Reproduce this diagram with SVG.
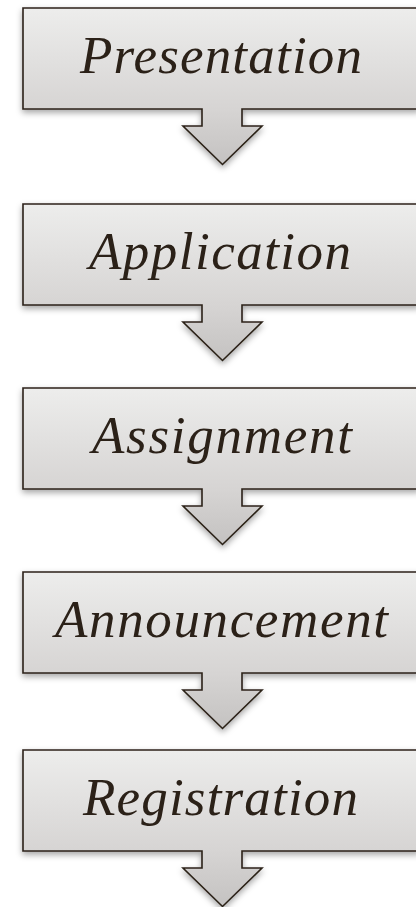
<svg xmlns="http://www.w3.org/2000/svg" width="416" height="907" viewBox="0 0 416 907">
  <style>
    .shape { fill: url(#g); stroke: #2b2118; stroke-width: 1.6; stroke-linejoin: miter; filter: url(#sh); }
  </style>
  <defs>
    <linearGradient id="g" x1="0" y1="0" x2="0" y2="1">
      <stop offset="0" stop-color="#ededec"/>
      <stop offset="0.65" stop-color="#d6d4d3"/>
      <stop offset="1" stop-color="#c4c2c1"/>
    </linearGradient>
    <filter id="sh" x="-10%" y="-10%" width="120%" height="130%">
      <feDropShadow dx="0" dy="3" stdDeviation="3" flood-color="#000" flood-opacity="0.35"/>
    </filter>
    <path id="callout" d="M23,8 H419 V109 H242 V126 H262 L222.5,164.5 L183,126 H202 V109 H23 Z"/>
  </defs>
  <rect width="416" height="907" fill="#ffffff"/>
  <g id="connectors"/>
  <g id="presentation">
    <use href="#callout" class="shape"/>
    <text x="221" y="72.5" font-family="Liberation Serif" font-style="italic" font-size="53" fill="#2b2118" text-anchor="middle" textLength="282" lengthAdjust="spacing">Presentation</text>
  </g>
  <g id="application" transform="translate(0,196)">
    <use href="#callout" class="shape"/>
    <text x="220" y="72.5" font-family="Liberation Serif" font-style="italic" font-size="53" fill="#2b2118" text-anchor="middle" textLength="262" lengthAdjust="spacing">Application</text>
  </g>
  <g id="assignment" transform="translate(0,380)">
    <use href="#callout" class="shape"/>
    <text x="222" y="72.5" font-family="Liberation Serif" font-style="italic" font-size="53" fill="#2b2118" text-anchor="middle" textLength="260" lengthAdjust="spacing">Assignment</text>
  </g>
  <g id="announcement" transform="translate(0,564)">
    <use href="#callout" class="shape"/>
    <text x="221.5" y="72.5" font-family="Liberation Serif" font-style="italic" font-size="53" fill="#2b2118" text-anchor="middle" textLength="333" lengthAdjust="spacing">Announcement</text>
  </g>
  <g id="registration" transform="translate(0,742)">
    <use href="#callout" class="shape"/>
    <text x="220.5" y="72.5" font-family="Liberation Serif" font-style="italic" font-size="53" fill="#2b2118" text-anchor="middle" textLength="275" lengthAdjust="spacing">Registration</text>
  </g>
</svg>
